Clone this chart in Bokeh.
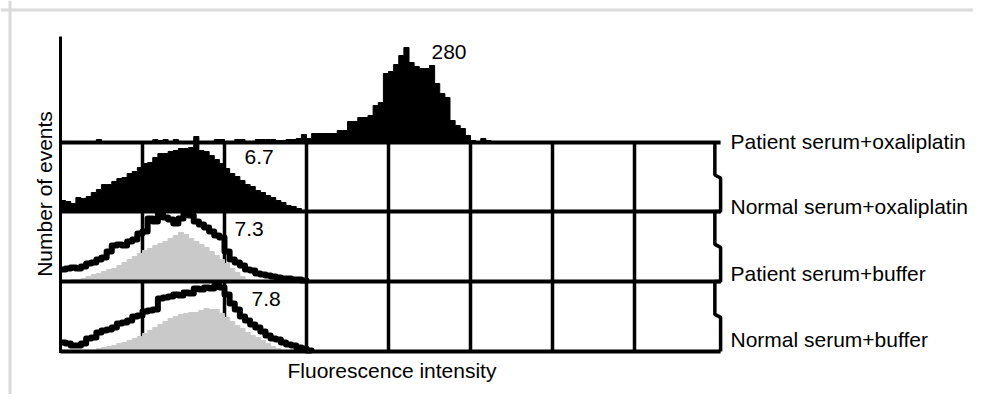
import numpy as np
from bokeh.plotting import figure
from bokeh.models import Range1d, Span
from bokeh.core.properties import value
from bokeh.embed import file_html
from bokeh.resources import INLINE

# ---------------- data ----------------
BIN = 0.0625                     # channel width on the fluorescence axis
GRID_X = [0, 1, 2, 3, 4, 5, 6, 7, 8]

labels = ["Patient serum+oxaliplatin", "Normal serum+oxaliplatin",
          "Patient serum+buffer", "Normal serum+buffer"]
mfi = ["280", "6.7", "7.3", "7.8"]

# events per channel (test sample)
patient_oxali = [0, 0, 0, 0, 0, 0, 0, 3, 0, 0,
                 0, 0, 0, 0, 0, 0, 0, 0, 3, 2,
                 3, 0, 3, 0, 0, 0, 6, 0, 0, 0,
                 3, 3, 0, 0, 3, 3, 0, 0, 3, 3,
                 3, 3, 2, 2, 3, 3, 4, 8, 4, 9,
                 9, 9, 9, 9, 12, 12, 21, 21, 25, 25,
                 27, 37, 40, 69, 71, 78, 87, 95, 80, 76,
                 74, 74, 77, 59, 49, 45, 22, 17, 14, 7,
                 2, 0, 4, 2, 0, 0]
normal_oxali = [11, 10, 8, 14, 13, 15, 19, 22, 27, 27,
                30, 33, 34, 38, 40, 44, 48, 49, 54, 58,
                58, 60, 61, 63, 63, 64, 70, 61, 60, 56,
                52, 48, 43, 38, 35, 31, 27, 25, 21, 19,
                16, 14, 11, 9, 6, 5, 3, 0]
patient_buffer = [12, 13, 14, 13, 15, 18, 19, 22, 24, 30,
                  36, 37, 36, 40, 42, 48, 50, 63, 60, 67,
                  64, 62, 58, 63, 67, 66, 60, 57, 54, 50,
                  46, 44, 30, 22, 19, 16, 12, 11, 8, 7,
                  6, 5, 4, 3, 3, 2, 2, 1]
normal_buffer = [9, 8, 6, 6, 8, 13, 14, 19, 21, 22,
                 24, 28, 29, 31, 35, 36, 40, 41, 42, 53,
                 54, 55, 57, 56, 59, 58, 63, 62, 64, 63,
                 66, 64, 57, 48, 42, 35, 31, 27, 24, 20,
                 16, 13, 12, 9, 7, 6, 4, 3, 1]
# events per channel (grey control histograms)
patient_buffer_ctrl = [0, 1, 2, 2, 3, 5, 7, 8, 10, 12,
                       13, 16, 19, 22, 25, 28, 31, 33, 36, 38,
                       40, 43, 46, 49, 47, 43, 40, 37, 34, 30,
                       26, 22, 18, 13, 9, 5, 2, 0]
normal_buffer_ctrl = [0, 0, 0, 0, 0, 0, 1, 3, 4, 5,
                      6, 8, 9, 11, 13, 15, 18, 21, 24, 27,
                      30, 33, 35, 37, 38, 39, 39, 41, 43, 42,
                      42, 38, 34, 30, 26, 23, 19, 16, 14, 11,
                      8, 5, 3, 1, 0]

# ---------------- layout ----------------
ROW_BASE = [209, 140, 70, 0]     # vertical offset of each stacked histogram
AXIS_TOP = 315
PX0, PXU = 60, 82                # pixel anchoring of x=0 and pixels per x unit
ORIGIN = 0                       # page offset of the canvas
W, H = 973, 394
TXT_DY = 9                       # baseline correction for text placement

def xpx(px):
    return (px - PX0) / PXU

p = figure(width=W, height=H, output_backend="svg", toolbar_location=None,
           x_axis_type=None, y_axis_type=None, min_border=0,
           x_range=Range1d(xpx(ORIGIN), xpx(ORIGIN + W)),
           y_range=Range1d(351 - (ORIGIN + H), 351 - ORIGIN))
p.outline_line_color = None
p.grid.visible = False
p.background_fill_color = "white"
p.border_fill_color = "white"

# light grey frame (top / left)
p.add_layout(Span(location=xpx(9.5), dimension="height", line_color="#dadada", line_width=3))
p.add_layout(Span(location=351 - 9.5, dimension="width", line_color="#dadada", line_width=3))

# vertical grid lines of the lower three panels
inner = GRID_X[1:-1]
p.segment(x0=inner, y0=[ROW_BASE[3]] * len(inner), x1=inner, y1=[ROW_BASE[0]] * len(inner),
          line_color="black", line_width=3.5)

def patch_xy(vals, base):
    n = len(vals)
    edges = np.arange(n + 1) * BIN
    xs = np.concatenate([[0.0], np.repeat(edges, 2)[1:-1], [n * BIN]])
    ys = np.concatenate([[base], np.repeat(np.asarray(vals, float), 2) + base, [base]])
    return xs, ys

def step_xy(vals, base):
    n = len(vals)
    edges = np.arange(n + 1) * BIN
    xs = np.repeat(edges, 2)[1:-1]
    ys = np.repeat(np.asarray(vals, float), 2) + base
    xs = np.concatenate([xs, [n * BIN]])
    ys = np.concatenate([ys, [base]])
    return xs, ys

# filled black histograms (rows 1, 2)
for vals, base in [(patient_oxali, ROW_BASE[0]), (normal_oxali, ROW_BASE[1])]:
    xs, ys = patch_xy(vals, base)
    p.patch(xs, ys, fill_color="black", line_color="black", line_width=1)

# grey controls + black outlines (rows 3, 4)
for ctrl, test, base in [(patient_buffer_ctrl, patient_buffer, ROW_BASE[2]),
                         (normal_buffer_ctrl, normal_buffer, ROW_BASE[3])]:
    xs, ys = patch_xy(ctrl, base)
    p.patch(xs, ys, fill_color="#c9c9c9", line_color="#c9c9c9", line_width=1)
    xs, ys = step_xy(test, base)
    p.line(xs, ys, line_color="black", line_width=6, line_join="round")

# horizontal baselines
p.segment(x0=[GRID_X[0]] * 4, y0=ROW_BASE, x1=[GRID_X[-1] + 0.05] * 4, y1=ROW_BASE,
          line_color="black", line_width=4)
# y axis line
p.segment(x0=[GRID_X[0]], y0=[ROW_BASE[3] - 1.5], x1=[GRID_X[0]], y1=[AXIS_TOP],
          line_color="black", line_width=3)

# stepped right edge of the panels
tops = ROW_BASE[:3]
bots = ROW_BASE[1:]
rx, ry = [], []
for t, b in zip(tops, bots):
    mid = t - 0.47 * (t - b)
    rx += [GRID_X[-1] - 0.02, GRID_X[-1] - 0.02, GRID_X[-1] + 0.05, GRID_X[-1] + 0.05]
    ry += [t, mid, mid - 3, b]
p.line(rx, ry, line_color="black", line_width=3.5)

FONT = value("Liberation Sans")
# MFI values
p.text(x=[xpx(431), xpx(244), xpx(234), xpx(251)],
       y=[ROW_BASE[0] + 82 + TXT_DY, ROW_BASE[1] + 46 + TXT_DY,
          ROW_BASE[2] + 44 + TXT_DY, ROW_BASE[3] + 44 + TXT_DY],
       text=mfi, text_font=FONT, text_font_size="21px", text_color="black",
       text_align="left", text_baseline="alphabetic")
# row labels
p.text(x=[xpx(730)] * 4,
       y=[ROW_BASE[0] - 8 + TXT_DY, ROW_BASE[1] - 4 + TXT_DY,
          ROW_BASE[2] - 1 + TXT_DY, ROW_BASE[3] + 3 + TXT_DY],
       text=labels, text_font=FONT, text_font_size="21px", text_color="black",
       text_align="left", text_baseline="alphabetic")
# axis titles
p.text(x=[xpx(287)], y=[351 - 379 + TXT_DY], text=["Fluorescence intensity"], text_font=FONT,
       text_font_size="21px", text_color="black", text_align="left", text_baseline="alphabetic")
p.text(x=[xpx(44)], y=[351 - 193.5], text=["Number of events"], angle=np.pi / 2, text_font=FONT,
       text_font_size="21px", text_color="black", text_align="center", text_baseline="middle")

open("out.html", "w").write(file_html(p, INLINE))
